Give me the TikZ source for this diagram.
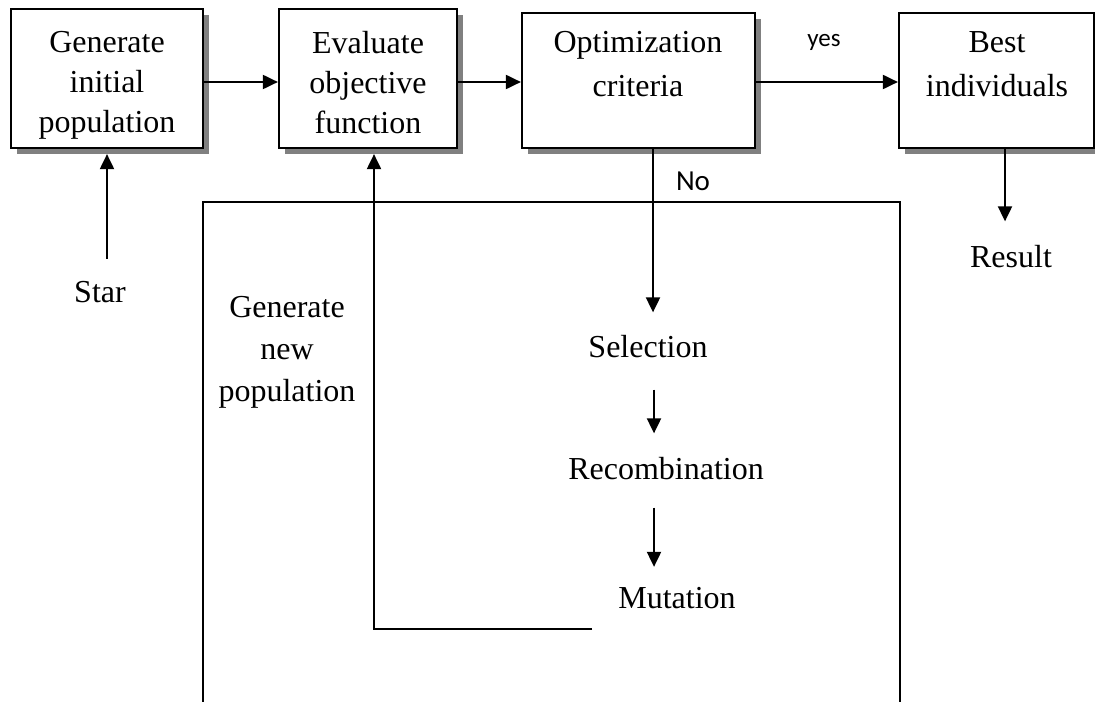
\documentclass[tikz,border=0pt]{standalone}
\usepackage{fontspec}
\setmainfont{Liberation Serif}
\newfontfamily\labelfont{Carlito}
\usetikzlibrary{arrows.meta,calc,shadows}

\begin{document}
\begin{tikzpicture}[x=0.5pt,y=-0.5pt,
  box/.style={draw, line width=1.1pt, fill=white, rectangle, inner sep=0pt,
    general shadow={fill=black!50, shadow xshift=3pt, shadow yshift=-3pt}},
  boxtext/.style={align=center, inner sep=0pt, anchor=north},
  three/.style={font=\fontsize{16}{20}\selectfont},
  two/.style={font=\fontsize{16}{22}\selectfont},
  plain/.style={inner sep=0pt, font=\fontsize{16}{20}\selectfont},
  answer/.style={inner sep=0pt, anchor=base},
  arr/.style={-{Triangle[length=7.5pt,width=7pt]}, line width=1pt},
  frame/.style={line width=1pt}
]
\clip (0,0) rectangle (1095,701);

% main row of boxes
\node[box, minimum width=96pt,   minimum height=69.5pt] (b1) at (107,78.5) {};
\node[box, minimum width=89pt,   minimum height=69.5pt] (b2) at (368,78.5) {};
\node[box, minimum width=116.5pt,minimum height=67.5pt] (b3) at (638.5,80.5) {};
\node[box, minimum width=97.5pt, minimum height=67.5pt] (b4) at (996.5,80.5) {};

\node[boxtext, three] (t1) at (107,31) {Generate\\initial\\population};
\node[boxtext, three] (t2) at (368,31) {Evaluate\\objective\\function};
\node[boxtext, two]   (t3) at (638,31) {Optimization\\criteria};
\node[boxtext, two]   (t4) at (997,31) {Best\\individuals};

% free labels
\node[plain] (star) at (100,292) {Star};
\node[plain] (res)  at (1011,257) {Result};
\node[boxtext, font=\fontsize{16}{21}\selectfont] (gen) at (287,296) {Generate\\new\\population};
\node[plain] (sel) at (648,347) {Selection};
\node[plain] (rec) at (666,469) {Recombination};
\node[plain] (mut) at (677,598) {Mutation};

\node[answer, font=\labelfont\fontsize{12.5}{14}\selectfont] (yes) at (824,47) {yes};
\node[answer, font=\labelfont\fontsize{14.5}{16}\selectfont] (no) at (693,190) {No};

% enclosing frame of the new-population loop
\draw[frame] (203,760) |- (900,202) -- (900,760);

% connectors
\coordinate (ay) at (0,82);
\draw[arr] (b1.east |- ay) -- (b2.west |- ay);
\draw[arr] (b2.east |- ay) -- (b3.west |- ay);
\draw[arr] (b3.east |- ay) -- (b4.west |- ay);

\draw[arr] ($(star.north -| b1.south)+(0,-22)$) -- ($(b1.south)+(0,5)$);
\draw[arr] ($(b4.south)+(8.5,0)$) -- ($(res.north)+(-6,-24)$);

\draw[arr] ($(b3.south)+(14.5,0)$) -- ($(sel.north)+(5,-23)$);
\draw[arr] ($(sel.south)+(6,31)$) -- ($(rec.north)+(-12,-24)$);
\draw[arr] ($(rec.south)+(-12,27)$) -- ($(mut.north)+(-23,-20)$);

\coordinate (fb) at (592,629);
\draw[arr] (fb) -| ($(b2.south)+(6,5)$);
\end{tikzpicture}
\end{document}
